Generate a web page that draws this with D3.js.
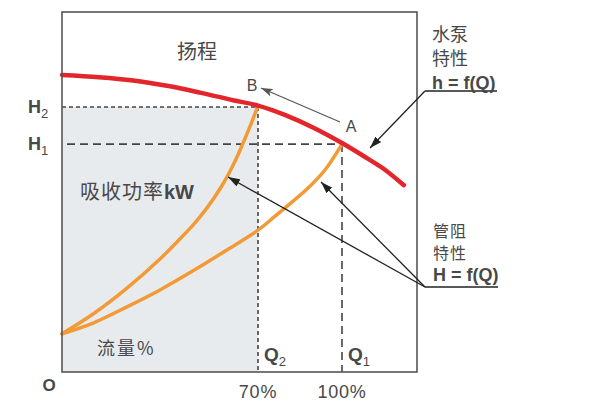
<!DOCTYPE html>
<html>
<head>
<meta charset="utf-8">
<script src="https://cdn.jsdelivr.net/npm/d3@7/dist/d3.min.js"></script>
<style>
  html, body { margin: 0; padding: 0; background: #fff; }
  svg { display: block; }
  text { font-family: "Liberation Sans", Arial, "Noto Sans CJK SC", sans-serif; fill: #484848; }
  .cjk { font-family: "Noto Sans CJK SC", sans-serif; }
</style>
</head>
<body>
<svg id="chart" width="593" height="418"></svg>
<script>
// ---- data (flow % vs head units) ----
const pumpCurve = [[0,82.5],[13.2,81.9],[25.4,81.0],[37.5,79.5],[49.3,77.6],[61.1,75.5],[70,74.0],[80,71.3],[90,67.8],[100,63.6],[108.9,59.4],[114.6,56.6],[122.1,51.9]];
const systemCurveB = [[0,10.6],[11.1,16.1],[23.2,23.3],[35.0,31.4],[41.4,36.4],[47.1,41.1],[51.8,45.6],[55.7,50.0],[59.3,54.7],[62.5,59.7],[65.0,64.2],[67.3,68.5],[70,74.0]];
const systemCurveA = [[0,10.6],[11.1,13.6],[23.2,18.1],[35.0,22.8],[46.8,28.1],[58.9,33.9],[70,39.4],[76.1,43.3],[82.1,47.2],[87.9,51.1],[93.9,56.1],[100,63.3]];
const flowTicks = [70, 100];
const flowTickLabels = ["70%", "100%"];
const headLevels = [73.6, 63.3];          // H2, H1
const headLabels = ["H", "H"];
const headSubs = ["2", "1"];
const flowLabels = ["Q", "Q"];
const flowSubs = ["2", "1"];
const pointA = [100, 63.3];
const pointB = [70, 73.6];

const svg = d3.select("#chart");
const x = d3.scaleLinear().domain([0, 100]).range([62, 342]);
const y = d3.scaleLinear().domain([0, 100]).range([372, 12]);
const xMax = x.invert(417);

// defs
const defs = svg.append("defs");
defs.append("marker").attr("id","ah").attr("viewBox","0 0 12 8").attr("refX",12).attr("refY",4)
  .attr("markerWidth",12).attr("markerHeight",8).attr("markerUnits","userSpaceOnUse").attr("orient","auto")
  .append("path").attr("d","M0,0 L12,4 L0,8 Z").attr("fill","#222");
defs.append("marker").attr("id","ahg").attr("viewBox","0 0 12 8").attr("refX",12).attr("refY",4)
  .attr("markerWidth",12).attr("markerHeight",8).attr("markerUnits","userSpaceOnUse").attr("orient","auto")
  .append("path").attr("d","M0,0 L12,4 L0,8 L3,4 Z").attr("fill","#555");

// shaded power area
svg.append("rect")
  .attr("x", x(0)).attr("y", y(headLevels[0]))
  .attr("width", x(flowTicks[0]) - x(0)).attr("height", y(0) - y(headLevels[0]))
  .attr("fill", "#e8ebee");

// dashed reference lines
const g = svg.append("g").attr("stroke", "#444").attr("stroke-width", 1.6).attr("fill", "none");
g.append("line").attr("x1", x(0)).attr("x2", x(pointB[0])).attr("y1", y(headLevels[0])).attr("y2", y(headLevels[0])).attr("stroke-dasharray","4,3");
g.append("line").attr("x1", x(pointB[0])).attr("x2", x(pointB[0])).attr("y1", y(headLevels[0])).attr("y2", y(0)).attr("stroke-dasharray","4,3");
g.append("line").attr("x1", x(0)+5).attr("x2", x(pointA[0])).attr("y1", y(headLevels[1])).attr("y2", y(headLevels[1])).attr("stroke-dasharray","8,5");
g.append("line").attr("x1", x(pointA[0])).attr("x2", x(pointA[0])).attr("y1", y(headLevels[1])).attr("y2", y(0)).attr("stroke-dasharray","8,5");

// curves
const line = d3.line().x(d => x(d[0])).y(d => y(d[1])).curve(d3.curveCatmullRom.alpha(0.5));
svg.append("path").datum(systemCurveA).attr("d", line).attr("fill","none").attr("stroke","#f29a35").attr("stroke-width",3.5).attr("stroke-linecap","round");
svg.append("path").datum(systemCurveB).attr("d", line).attr("fill","none").attr("stroke","#f29a35").attr("stroke-width",3.5).attr("stroke-linecap","round");
svg.append("path").datum(pumpCurve).attr("d", line).attr("fill","none").attr("stroke","#e3262b").attr("stroke-width",4.5).attr("stroke-linecap","round");

// frame
svg.append("rect").attr("x", x(0)).attr("y", y(100)).attr("width", x(xMax) - x(0)).attr("height", y(0) - y(100))
  .attr("fill","none").attr("stroke","#555").attr("stroke-width",1.6);

// A -> B arrow
svg.append("line").attr("x1", 340).attr("y1", 122).attr("x2", 261).attr("y2", 88)
  .attr("stroke","#555").attr("stroke-width",1.1).attr("marker-end","url(#ahg)");
svg.append("text").attr("x", 252).attr("y", 91).attr("text-anchor","middle").attr("font-size",16).text("B");
svg.append("text").attr("x", 351).attr("y", 132).attr("text-anchor","middle").attr("font-size",16).text("A");

// leader lines
const lead = svg.append("g").attr("stroke","#222").attr("stroke-width",1.3).attr("fill","none");
lead.append("line").attr("x1",425).attr("y1",91).attr("x2",497).attr("y2",91);
lead.append("line").attr("x1",425).attr("y1",91).attr("x2",370).attr("y2",148).attr("marker-end","url(#ah)");
lead.append("line").attr("x1",425).attr("y1",287).attr("x2",498).attr("y2",287);
lead.append("line").attr("x1",425).attr("y1",287).attr("x2",228).attr("y2",177).attr("marker-end","url(#ah)");
lead.append("line").attr("x1",425).attr("y1",287).attr("x2",321).attr("y2",182).attr("marker-end","url(#ah)");

// text labels
svg.append("text").attr("class","cjk").attr("x",177).attr("y",59).attr("font-size",20).text("扬程");
const pw = svg.append("text").attr("x",80).attr("y",199).attr("font-size",20);
pw.append("tspan").attr("class","cjk").attr("letter-spacing",1).text("吸收功率");
pw.append("tspan").attr("font-weight","bold").attr("font-size",20).text("kW");
svg.append("text").attr("class","cjk").attr("x",97).attr("y",355).attr("font-size",18).attr("letter-spacing",2).text("流量%");

// right annotations
const ann1 = ["水泵","特性"];
ann1.forEach((t,i) => svg.append("text").attr("class","cjk").attr("x",432).attr("y",41+i*24).attr("font-size",18).text(t));
svg.append("text").attr("x",432).attr("y",89).attr("font-size",18).attr("font-weight","bold").text("h = f(Q)");
const ann2 = ["管阻","特性"];
ann2.forEach((t,i) => svg.append("text").attr("class","cjk").attr("x",433).attr("y",237+i*22).attr("font-size",16).attr("letter-spacing",1).text(t));
svg.append("text").attr("x",433).attr("y",281).attr("font-size",18).attr("font-weight","bold").text("H = f(Q)");

// head labels (y)
headLevels.forEach((h,i) => {
  const t = svg.append("text").attr("x",28).attr("y",y(h)+6).attr("font-size",18).attr("font-weight","bold");
  t.append("tspan").text(headLabels[i]);
  t.append("tspan").attr("font-size",13).attr("font-weight","normal").attr("dy",5).text(headSubs[i]);
});
// flow labels Q
flowTicks.forEach((f,i) => {
  const t = svg.append("text").attr("x",x(f)+6).attr("y",361).attr("font-size",19).attr("font-weight","bold");
  t.append("tspan").text(flowLabels[i]);
  t.append("tspan").attr("font-size",13).attr("font-weight","normal").attr("dy",5).text(flowSubs[i]);
});
// tick labels
flowTicks.forEach((f,i) => {
  svg.append("text").attr("x",x(f)).attr("y",398).attr("text-anchor","middle").attr("font-size",18).attr("letter-spacing",0.8).text(flowTickLabels[i]);
});
svg.append("text").attr("x",49).attr("y",391).attr("text-anchor","middle").attr("font-size",17).attr("font-weight","bold").text("O");
</script>
</body>
</html>
